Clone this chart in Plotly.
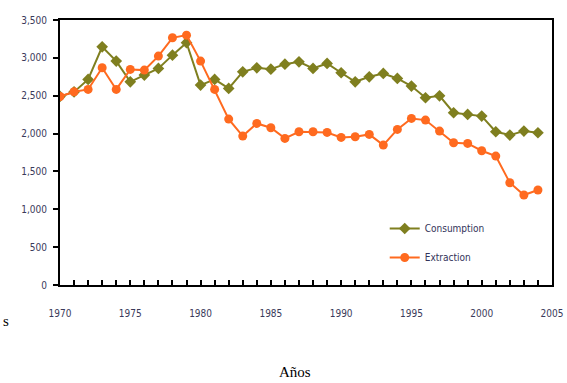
import plotly.graph_objects as go

years = list(range(1970, 2005))
consumption = [2490, 2550, 2715, 3146, 2957, 2684, 2772, 2860, 3036, 3200,
               2640, 2715, 2596, 2816, 2869, 2851, 2917, 2948, 2860, 2926,
               2803, 2684, 2750, 2794, 2728, 2627, 2473, 2499, 2275, 2253,
               2231, 2024, 1980, 2033, 2011]
extraction = [2490, 2552, 2583, 2869, 2583, 2847, 2838, 3023, 3265, 3300,
              2957, 2583, 2191, 1967, 2134, 2077, 1936, 2024, 2024, 2015,
              1949, 1958, 1989, 1848, 2055, 2200, 2178, 2033, 1879, 1870,
              1773, 1703, 1351, 1188, 1254]
y_ticks = [0, 500, 1000, 1500, 2000, 2500, 3000, 3500]
x_ticks = [1970, 1975, 1980, 1985, 1990, 1995, 2000, 2005]

narrow = "DejaVu Sans Condensed, Liberation Sans Narrow, Arial Narrow, sans-serif"
tick_color = "#3a3a5a"

fig = go.Figure()
fig.add_trace(go.Scatter(x=years, y=consumption, name="Consumption",
                         mode="lines+markers", legendgroup="a",
                         line=dict(color="#7f7f1f", width=2),
                         marker=dict(symbol="diamond", size=9, color="#7f7f1f")))
fig.add_trace(go.Scatter(x=years, y=extraction, name="Extraction",
                         mode="lines+markers", legendgroup="b",
                         line=dict(color="#ff6a1f", width=2),
                         marker=dict(symbol="circle", size=9, color="#ff6a1f")))

fig.update_layout(
    width=567, height=383,
    margin=dict(l=60, r=15, t=20, b=98, autoexpand=False),
    plot_bgcolor="white", paper_bgcolor="white",
    showlegend=True,
    legend=dict(x=0.66, y=0.268, xanchor="left", yanchor="top",
                bgcolor="rgba(0,0,0,0)", traceorder="grouped", tracegroupgap=10,
                font=dict(family=narrow, size=10, color="#33335a")),
    xaxis=dict(range=[1970, 2005], tickvals=x_ticks, showgrid=False, zeroline=False,
               automargin=False,
               showline=True, linecolor="black", linewidth=2, mirror=True,
               ticks="inside", ticklen=5, tickcolor="black", tickwidth=1.5,
               minor=dict(dtick=1, ticks="inside", ticklen=5, tickcolor="black", tickwidth=1.5),
               ticklabelstandoff=18,
               tickfont=dict(family=narrow, size=10, color=tick_color)),
    yaxis=dict(range=[0, 3500], tickvals=y_ticks, tickformat=",d", showgrid=False,
               automargin=False,
               zeroline=False, showline=True, linecolor="black", linewidth=2, mirror=True,
               ticks="outside", ticklen=5, tickcolor="black", tickwidth=1.5,
               ticklabelstandoff=4,
               tickfont=dict(family=narrow, size=10, color=tick_color)),
)

plot_h = 383 - 20 - 98
plot_w = 567 - 60 - 15
serif = "Liberation Serif, Times New Roman, serif"
fig.add_annotation(text="Años", xref="paper", yref="paper",
                   x=(295 - 60) / plot_w, y=(285 - 372) / plot_h,
                   xanchor="center", yanchor="middle", showarrow=False,
                   font=dict(family=serif, size=15, color="black"))
fig.add_annotation(text="s", xref="paper", yref="paper",
                   x=(6 - 60) / plot_w, y=(285 - 321) / plot_h,
                   xanchor="center", yanchor="middle", showarrow=False,
                   font=dict(family=serif, size=15, color="black"))

fig.write_html("out.html", config={"displayModeBar": False},
               post_script="document.body.style.margin='0';document.body.style.overflow='hidden';")
